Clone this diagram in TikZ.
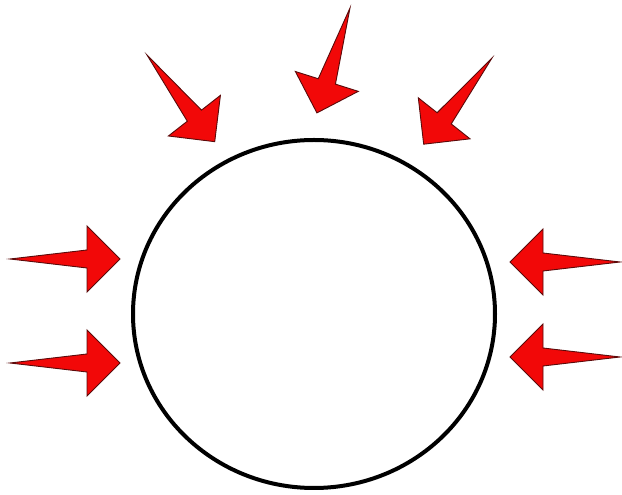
\documentclass[tikz,border=0pt]{standalone}
\usetikzlibrary{shapes.geometric}
\definecolor{arrowred}{RGB}{242,8,8}
\definecolor{arrowedge}{RGB}{90,10,10}
\tikzset{
  redarrow/.style={fill=arrowred,draw=arrowedge,line width=0.9pt,line join=miter},
  ring/.style={ellipse,draw=black,line width=4pt,minimum width=362pt,minimum height=348pt,inner sep=0pt}
}
\newcommand{\bigarrow}[3]{%
  \begin{scope}[shift={(#1,#2)},rotate=#3]
    \path[redarrow] (0,0) -- (77,9) -- (77,33) -- (110,0) -- (77,-33) -- (77,-9) -- cycle;
  \end{scope}}
\begin{document}
\begin{tikzpicture}[x=1pt,y=1pt]
  \useasboundingbox (0,0) rectangle (622,495);
  \fill[white] (0,0) rectangle (622,495);
  \node[ring] (body) at (314,181) {};
  % top arrows
  \bigarrow{147}{440}{-52}
  \bigarrow{350}{487}{-107.5}
  \bigarrow{492}{437}{-128.4}
  % left arrows
  \bigarrow{10}{236}{0}
  \bigarrow{10}{132}{0}
  % right arrows
  \bigarrow{620}{233}{180}
  \bigarrow{620}{138}{180}
\end{tikzpicture}
\end{document}
